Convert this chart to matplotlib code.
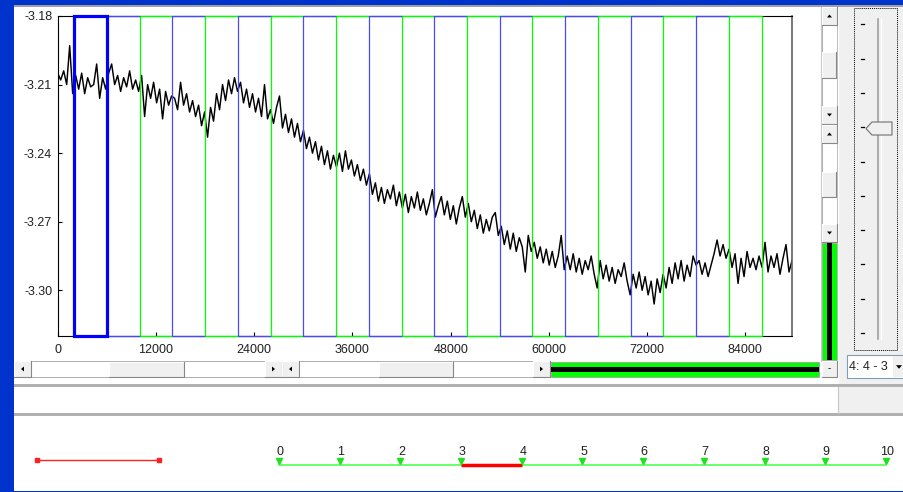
import numpy as np
import matplotlib
matplotlib.use("Agg")
import matplotlib.pyplot as plt
from matplotlib.patches import Rectangle, Polygon

# ---- values ----
signal = [
    -3.205, -3.208, -3.204, -3.210, -3.193, -3.214,
    -3.206, -3.212, -3.205, -3.214, -3.207, -3.211, -3.210, -3.201, -3.216, -3.207, -3.212,
    -3.205, -3.201, -3.210, -3.206, -3.213, -3.207, -3.211, -3.204, -3.212, -3.208, -3.213,
    -3.206, -3.224, -3.210, -3.216, -3.209, -3.218, -3.212, -3.225, -3.213, -3.219, -3.215,
    -3.216, -3.221, -3.209, -3.219, -3.214, -3.222, -3.217, -3.224, -3.219, -3.228, -3.222,
    -3.233, -3.220, -3.226, -3.214, -3.221,
    -3.210, -3.217, -3.208, -3.214, -3.207, -3.213, -3.209,
    -3.218, -3.212, -3.220, -3.214, -3.222, -3.216, -3.224, -3.210, -3.225,
    -3.221, -3.227, -3.220, -3.215, -3.229, -3.223, -3.231, -3.225, -3.233, -3.227, -3.235,
    -3.230, -3.238, -3.233, -3.240, -3.235, -3.243, -3.237, -3.245, -3.239, -3.247, -3.241,
    -3.246, -3.240, -3.248, -3.239, -3.247, -3.243, -3.250,
    -3.245, -3.252, -3.247, -3.254, -3.249,
    -3.258, -3.253, -3.261, -3.255, -3.262, -3.256, -3.260, -3.254, -3.263, -3.257, -3.264,
    -3.258, -3.266, -3.259, -3.264, -3.257, -3.265, -3.260, -3.267, -3.262, -3.256, -3.268,
    -3.263, -3.259, -3.267, -3.261, -3.269, -3.263, -3.271, -3.264, -3.259, -3.268, -3.262,
    -3.270, -3.265, -3.273, -3.267, -3.275, -3.269, -3.274, -3.268, -3.266, -3.276,
    -3.272, -3.280, -3.274, -3.282, -3.275, -3.283, -3.277, -3.281, -3.292, -3.276, -3.283,
    -3.279, -3.286, -3.281, -3.288, -3.282, -3.289, -3.283, -3.290, -3.285, -3.276, -3.291, -3.285,
    -3.291, -3.284, -3.292, -3.286, -3.293, -3.287, -3.291, -3.285, -3.293, -3.299, -3.287,
    -3.295, -3.289, -3.296, -3.290, -3.297, -3.291, -3.294, -3.288, -3.296, -3.302,
    -3.293, -3.299, -3.292, -3.300, -3.294, -3.302, -3.296, -3.306, -3.295, -3.301, -3.293,
    -3.299, -3.290, -3.297, -3.288, -3.295, -3.287, -3.296, -3.289, -3.294, -3.285,
    -3.289, -3.287, -3.293, -3.288, -3.294, -3.289,
    -3.284, -3.278, -3.285, -3.280, -3.286, -3.282,
    -3.290, -3.284, -3.297, -3.286, -3.294, -3.283, -3.290, -3.286, -3.291, -3.285,
    -3.290, -3.279, -3.292, -3.285, -3.290, -3.284, -3.293, -3.286, -3.280, -3.292, -3.287,
]
x_max = 89700
x_ticks = [0, 12000, 24000, 36000, 48000, 60000, 72000, 84000]
y_ticks = [-3.30, -3.27, -3.24, -3.21, -3.18]
y_limits = (-3.32, -3.18)
segment_edges = [2000, 6000, 10000, 14000, 18000, 22000, 26000, 30000, 34000, 38000, 42000,
                 46000, 50000, 54000, 58000, 62000, 66000, 70000, 74000, 78000, 82000, 86000]
selected_segment = 0
marker_labels = ["0", "1", "2", "3", "4", "5", "6", "7", "8", "9", "10"]
marker_selected = (3, 4)
combo_text = "4: 4 - 3"

# ---- colours ----
FRAME = "#0033CC"
FACE = "#F0F0F0"
EDGE = "#A0A0A0"
SEG_BLUE = "#4848FF"
SEG_GREEN = "#00FF00"

W, H = 904, 492
plt.rcParams["font.family"] = ["Liberation Sans", "DejaVu Sans"]
fig = plt.figure(figsize=(W / 100, H / 100), dpi=100)
fig.patch.set_facecolor("white")

# background canvas in pixel coordinates (y down)
bg = fig.add_axes([0, 0, 1, 1])
bg.set_xlim(0, W)
bg.set_ylim(H, 0)
bg.axis("off")


def box(x0, y0, x1, y1, face, edge=None, lw=0.0, z=1, ls="-"):
    bg.add_patch(Rectangle((x0, y0), x1 - x0, y1 - y0, facecolor=face,
                           edgecolor=edge if edge else face, lw=lw, zorder=z, linestyle=ls))


def bevel(x0, y0, x1, y1, z=2):
    box(x0, y0, x1, y1, FACE, z=z)
    bg.plot([x0, x0, x1], [y1, y0, y0], color="white", lw=0.8, zorder=z + 0.1)
    bg.plot([x0, x1, x1], [y1, y1, y0], color="#888888", lw=0.8, zorder=z + 0.1)


def arrow(cx, cy, d, s=2.5, z=3):
    pts = {
        "left": [(cx + s * 0.6, cy - s), (cx + s * 0.6, cy + s), (cx - s * 0.6, cy)],
        "right": [(cx - s * 0.6, cy - s), (cx - s * 0.6, cy + s), (cx + s * 0.6, cy)],
        "up": [(cx - s, cy + s * 0.6), (cx + s, cy + s * 0.6), (cx, cy - s * 0.6)],
        "down": [(cx - s, cy - s * 0.6), (cx + s, cy - s * 0.6), (cx, cy + s * 0.6)],
    }[d]
    bg.add_patch(Polygon(pts, closed=True, facecolor="black", edgecolor="none", zorder=z))


def hscroll(x0, x1, t0, t1, y0=361, y1=377):
    box(x0, y0, x1, y1, "white", edge=EDGE, lw=0.6)
    bevel(x0, y0, x0 + 17, y1)
    bevel(x1 - 17, y0, x1, y1)
    bevel(t0, y0 + 0.5, t1, y1 - 0.5)
    arrow(x0 + 8.5, (y0 + y1) / 2, "left")
    arrow(x1 - 8.5, (y0 + y1) / 2, "right")


def vscroll(y0, y1, t0, t1, x0=822, x1=837):
    box(x0, y0, x1, y1, "white", edge=EDGE, lw=0.6)
    bevel(x0, y0, x1, y0 + 18)
    bevel(x0, y1 - 18, x1, y1)
    bevel(x0 + 0.5, t0, x1 - 0.5, t1)
    arrow((x0 + x1) / 2, y0 + 9, "up")
    arrow((x0 + x1) / 2, y1 - 9, "down")


# window frame
box(0, 0, W, 5, FRAME, z=5)
box(0, 0, 14, H, FRAME, z=5)
box(0, 490.5, W, H, FRAME, z=5)
box(14, 5, W, 6.5, EDGE, z=4)

# right side panel
box(838, 6.5, W, 384, FACE)
bg.plot([838.5, 838.5], [6.5, 413], color="white", lw=1.0, zorder=2)
bg.plot([821, 821], [6.5, 361], color="#C8C8C8", lw=0.8, zorder=2)

# scrollbars
vscroll(7, 124, 52, 78)
vscroll(125, 242, 172, 197)
hscroll(14, 282, 109, 184)
hscroll(282, 550, 379, 453)

# green/black level bars
box(551, 362, 819, 377, "#00FF00", edge=EDGE, lw=0.6)
box(551, 367, 819, 372, "black", z=2)
box(822, 243, 837, 360, "#00FF00", edge=EDGE, lw=0.6)
box(827, 243, 832, 360, "black", z=2)
bevel(822, 361, 837, 377)
bg.text(829.5, 368, "-", ha="center", va="center", fontsize=7, zorder=4)

# slider
box(854, 8, 897, 350, "none", edge="black", lw=0.7, z=2, ls=(0, (1, 1)))
bg.plot([878.5, 878.5], [19, 339], color="#A0A0A0", lw=1.2, zorder=2)
bg.plot([881, 881], [19, 339], color="white", lw=1.0, zorder=2)
for ty in np.linspace(24.3, 333, 10):
    bg.plot([861, 864.5], [ty, ty], color="black", lw=0.9, zorder=3)
bg.add_patch(Polygon([(866, 128.5), (872, 122), (892, 122), (892, 135), (872, 135)],
                     closed=True, facecolor=FACE, edgecolor="#707070", lw=0.8, zorder=4))

# combo box
box(847, 355, W, 378, "white", edge="#7F9DB9", lw=0.8, z=2)
bg.text(849, 367, combo_text, ha="left", va="center", fontsize=9, color="#202020", zorder=4)
box(893, 356, W, 377, FACE, z=3)
arrow(899, 367, "down", s=3)

# status strip and bottom panel
box(14, 384, W, 387, "#B0B0B0", z=2)
box(838, 387, W, 413, FACE, z=2)
bg.plot([838.5, 838.5], [387, 413], color="#C8C8C8", lw=0.8, zorder=3)
box(14, 413, W, 416, "#B0B0B0", z=2)

# marker strip at the bottom
mx = np.linspace(279, 886, len(marker_labels))
bg.plot([37, 159], [460.3, 460.3], color="#FF2020", lw=1.0, marker="s", ms=2.8, zorder=3)
bg.plot([mx[0], mx[-1]], [464.7, 464.7], color="#40FF40", lw=1.1, zorder=3)
bg.plot([mx[marker_selected[0]], mx[marker_selected[1]]], [464.7, 464.7],
        color="#FF0000", lw=2.5, solid_capstyle="butt", zorder=4)
bg.plot(mx, [461] * len(mx), linestyle="none", marker="v", ms=4, color="#20E020", zorder=5)
for xm, lab in zip(mx, marker_labels):
    bg.text(xm + 1, 452, lab, ha="center", va="center", fontsize=9, color="#202020", zorder=5)

# ---- main chart ----
L, R, T, B = 57.7, 792, 16, 336
ax = fig.add_axes([L / W, 1 - B / H, (R - L) / W, (B - T) / H])
ax.set_facecolor("white")
t = np.linspace(0, x_max, len(signal))
ax.plot(t, signal, color="black", lw=1.05, zorder=2)
ax.set_xlim(0, x_max)
ax.set_ylim(*y_limits)
ax.set_xticks(x_ticks)
ax.set_xticklabels([str(v) for v in x_ticks])
ax.set_yticks(y_ticks)
ax.set_yticklabels([f"{v:.2f}" for v in y_ticks])
ax.tick_params(direction="in", length=3, width=0.8, labelsize=9, colors="black")
ax.tick_params(axis="x", pad=6, labelcolor="#202020")
ax.tick_params(axis="y", pad=4, labelcolor="#202020")
for side in ["left", "bottom", "top"]:
    ax.spines[side].set_color("black")
    ax.spines[side].set_linewidth(0.8)
ax.spines["right"].set_color("#606060")
ax.spines["right"].set_linewidth(1.2)

# segment frames: top/bottom edges per segment, one vertical line per boundary
ylo, yhi = y_limits
n_seg = len(segment_edges) - 1
seg_colors = [SEG_BLUE if k % 2 == 1 else SEG_GREEN for k in range(n_seg)]
for k in range(n_seg):
    if k == selected_segment:
        continue
    a, b = segment_edges[k], segment_edges[k + 1]
    ax.hlines([ylo, yhi], a, b, colors=seg_colors[k], lw=1.0, clip_on=False, zorder=3)
for j, xe in enumerate(segment_edges):
    c = seg_colors[min(j, n_seg - 1)]
    ax.vlines(xe, ylo, yhi, colors=c, lw=0.9, clip_on=False, zorder=3)
a, b = segment_edges[selected_segment], segment_edges[selected_segment + 1]
ax.add_patch(Rectangle((a, ylo), b - a, yhi - ylo, fill=False, edgecolor="#0000FF",
                       lw=2.3, clip_on=False, zorder=4))

fig.savefig("out.png", dpi=100)
